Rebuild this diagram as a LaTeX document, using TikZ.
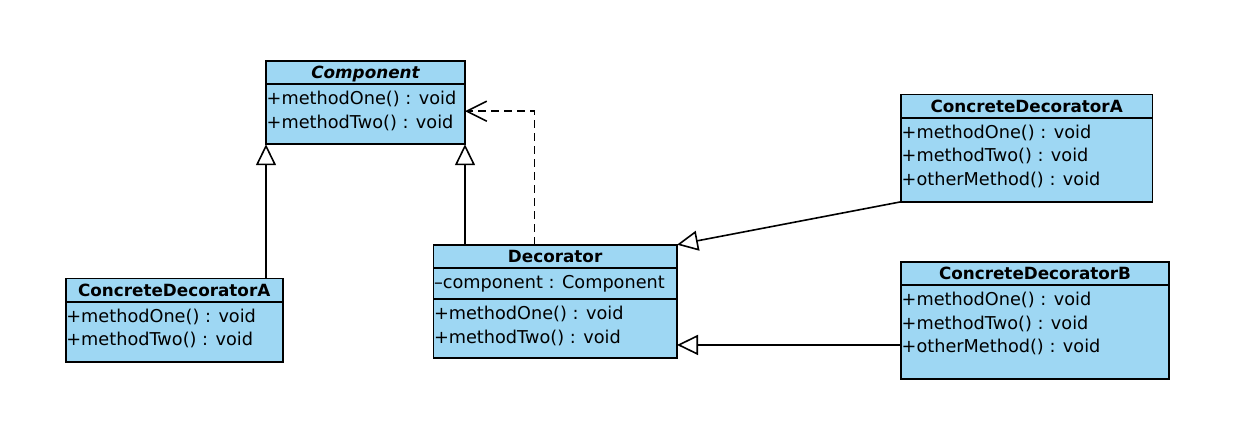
\documentclass[tikz,border=0pt]{standalone}
\usepackage{fontspec}
\setmainfont{DejaVu Sans}[BoldFont={DejaVu Sans Bold},ItalicFont={DejaVu Sans Oblique},BoldItalicFont={DejaVu Sans Bold Oblique}]
\usepackage{xcolor}
\usetikzlibrary{positioning,arrows.meta}
\definecolor{umlblue}{RGB}{158,215,243}

\begin{document}
\begin{tikzpicture}[x=1pt,y=-1pt,
  every node/.style={font=\fontsize{17.7}{23.3}\selectfont},
  cls/.style={draw,fill=umlblue,line width=1.6pt,outer sep=0pt,inner sep=0pt,anchor=north west,
    minimum height=23.5,text height=12.4,text depth=0pt,font=\fontsize{16.8}{23.3}\selectfont\bfseries},
  part/.style={draw,fill=umlblue,line width=1.6pt,outer sep=0pt,inner sep=0pt},
  member/.style={anchor=north west,align=left,inner xsep=0.5,inner ysep=7},
  inherit/.style={line width=1.6pt,-{Triangle[length=21pt,width=20pt,fill=white]}},
  uses/.style={line width=1.6pt,dash pattern=on 8pt off 5pt,-{Straight Barb[length=20pt,width=20pt]}}]
\useasboundingbox (0,0) rectangle (1240,445);
%
\node[cls,minimum width=199] (comp) at (266,60.7) {\itshape Component};
\node[part,minimum width=199,minimum height=60,below=0pt of comp] (compops) {};
\node[member] (compm) at (compops.north west) {+methodOne() : void\\+methodTwo() : void};
%
\node[cls,minimum width=217] (cdA1) at (65.7,278.3) {ConcreteDecoratorA};
\node[part,minimum width=217,minimum height=59.9,below=0pt of cdA1] (cdA1ops) {};
\node[member] (cdA1m) at (cdA1ops.north west) {+methodOne() : void\\+methodTwo() : void};
%
\node[cls,minimum width=243.7] (deco) at (433.3,244.7) {Decorator};
\node[part,minimum width=243.7,minimum height=31,below=0pt of deco] (decoattr) {};
\node[part,minimum width=243.7,minimum height=59,below=0pt of decoattr] (decoops) {};
\node[member] (decoa) at (decoattr.north west) {--component : Component};
\node[member] (decom) at (decoops.north west) {+methodOne() : void\\+methodTwo() : void};
%
\node[cls,minimum width=251.3] (cdA2) at (901,94.3) {ConcreteDecoratorA};
\node[part,minimum width=251.3,minimum height=84,below=0pt of cdA2] (cdA2ops) {};
\node[member] (cdA2m) at (cdA2ops.north west) {+methodOne() : void\\+methodTwo() : void\\+otherMethod() : void};
%
\node[cls,minimum width=268] (cdB) at (901,261.7) {ConcreteDecoratorB};
\node[part,minimum width=268,minimum height=93.5,below=0pt of cdB] (cdBops) {};
\node[member] (cdBm) at (cdBops.north west) {+methodOne() : void\\+methodTwo() : void\\+otherMethod() : void};
%
\draw[inherit] (cdA1.north -| compops.south west) -- (compops.south west);
\draw[inherit] (deco.north -| compops.south east) -- (compops.south east);
\draw[uses] ([xshift=101]deco.north west) |- ([yshift=3]compops.east);
\draw[inherit] (cdA2ops.south west) -- (deco.north east);
\draw[inherit] ([yshift=-13]cdBops.west) -- ([yshift=-13]cdBops.west -| decoops.east);
\end{tikzpicture}
\end{document}
